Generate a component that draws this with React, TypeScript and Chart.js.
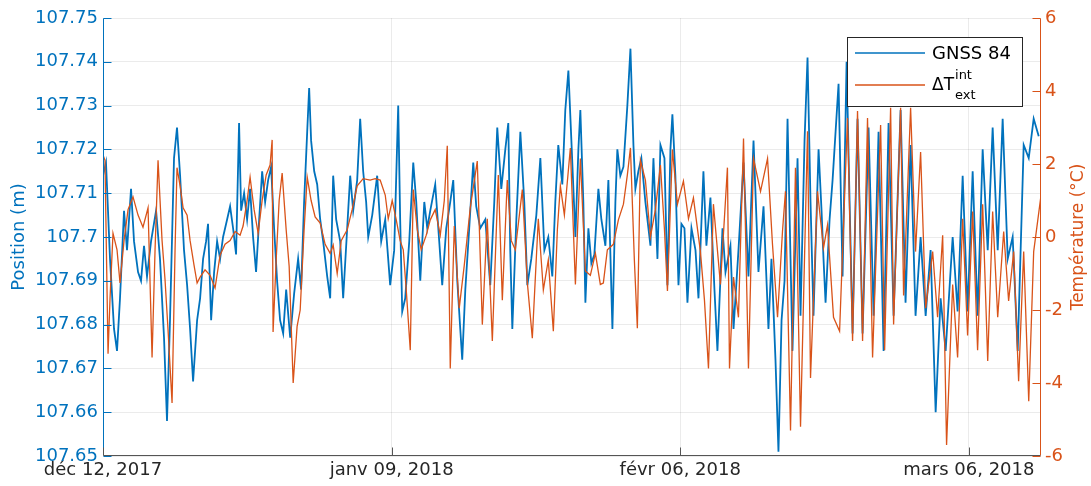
import React, { useEffect, useRef } from "react";
import { Chart, registerables } from "chart.js";

Chart.register(...registerables);

// ---- Data (x = days since 12 Dec 2017) ----
const xTickDays = [0, 28, 56, 84];
const xTickLabels = ["déc 12, 2017", "janv 09, 2018", "févr 06, 2018", "mars 06, 2018"];
const xMaxDay = 91;

const positionTicks = [107.65, 107.66, 107.67, 107.68, 107.69, 107.7, 107.71, 107.72, 107.73, 107.74, 107.75];
const positionTickLabels = ["107.65", "107.66", "107.67", "107.68", "107.69", "107.7", "107.71", "107.72", "107.73", "107.74", "107.75"];
const temperatureTicks = [-6, -4, -2, 0, 2, 4, 6];
const temperatureTickLabels = ["-6", "-4", "-2", "0", "2", "4", "6"];

const gnssDays = [
  0, 0.29, 0.68, 1.07, 1.36, 1.65, 2.04, 2.33, 2.72, 3.01,
  3.4, 3.69, 3.98, 4.27, 4.66, 5.15, 5.53, 5.92, 6.21, 6.5,
  6.89, 7.18, 7.48, 7.86, 8.16, 8.45, 8.74, 9.13, 9.42, 9.71,
  10.0, 10.19, 10.49, 10.78, 11.07, 11.36, 11.65, 12.04, 12.33, 12.62,
  12.91, 13.2, 13.4, 13.69, 13.98, 14.27, 14.56, 14.85, 15.15, 15.44,
  15.73, 16.02, 16.31, 16.6, 16.89, 17.18, 17.48, 17.77, 18.16, 18.54,
  18.93, 19.22, 19.51, 19.81, 20.0, 20.19, 20.49, 20.78, 21.07, 21.36,
  21.75, 22.04, 22.33, 22.62, 23.01, 23.3, 23.69, 23.98, 24.27, 24.66,
  24.95, 25.24, 25.53, 25.73, 26.12, 26.6, 26.99, 27.38, 27.86, 28.25,
  28.64, 28.83, 29.03, 29.32, 29.71, 30.1, 30.39, 30.78, 31.17, 31.46,
  31.75, 32.23, 32.62, 32.91, 33.3, 33.69, 33.98, 34.37, 34.66, 34.85,
  35.15, 35.53, 35.92, 36.21, 36.6, 37.09, 37.38, 37.57, 37.96, 38.25,
  38.64, 39.03, 39.32, 39.51, 39.71, 40.1, 40.49, 40.87, 41.17, 41.55,
  42.04, 42.43, 42.82, 43.2, 43.59, 43.88, 44.17, 44.56, 44.85, 45.15,
  45.44, 45.83, 46.12, 46.31, 46.6, 46.8, 47.09, 47.38, 47.67, 48.06,
  48.35, 48.74, 49.03, 49.42, 49.71, 49.9, 50.19, 50.49, 50.87, 51.17,
  51.46, 51.65, 51.94, 52.23, 52.62, 53.11, 53.4, 53.79, 54.08, 54.47,
  54.76, 55.05, 55.24, 55.53, 55.83, 56.12, 56.41, 56.7, 57.09, 57.48,
  57.77, 58.25, 58.54, 58.93, 59.32, 59.61, 60.1, 60.39, 60.87, 61.17,
  61.65, 62.14, 62.62, 63.11, 63.59, 64.08, 64.56, 64.85, 65.24, 65.53,
  65.83, 66.12, 66.41, 66.7, 66.89, 67.38, 67.67, 68.06, 68.35, 68.64,
  68.93, 69.42, 69.71, 69.9, 70.1, 70.49, 70.78, 71.36, 71.75, 72.14,
  72.43, 72.72, 73.2, 73.69, 74.27, 74.76, 75.24, 75.73, 76.21, 76.7,
  77.38, 77.86, 78.35, 78.83, 79.32, 79.81, 80.29, 80.78, 81.26, 81.75,
  82.43, 82.91, 83.4, 83.88, 84.37, 84.85, 85.34, 85.83, 86.31, 86.8,
  87.28, 87.77, 88.25, 88.74, 89.32, 89.81, 90.29, 90.78,
];
const gnssPosition = [
  107.714, 107.717, 107.695, 107.679, 107.674, 107.686, 107.706, 107.697, 107.711, 107.699,
  107.692, 107.69, 107.698, 107.691, 107.699, 107.706, 107.695, 107.677, 107.658, 107.681,
  107.718, 107.725, 107.714, 107.697, 107.689, 107.679, 107.667, 107.681, 107.686, 107.695,
  107.699, 107.703, 107.681, 107.692, 107.699, 107.695, 107.7, 107.704, 107.707, 107.702,
  107.696, 107.726, 107.706, 107.71, 107.704, 107.711, 107.7, 107.692, 107.704, 107.715,
  107.708, 107.713, 107.716, 107.702, 107.69, 107.681, 107.678, 107.688, 107.677, 107.687,
  107.695, 107.688, 107.708, 107.724, 107.734, 107.722, 107.715, 107.712, 107.704, 107.699,
  107.691, 107.686, 107.714, 107.704, 107.699, 107.686, 107.702, 107.714, 107.706, 107.713,
  107.727, 107.715, 107.708, 107.7, 107.705, 107.714, 107.699, 107.704, 107.689, 107.697,
  107.73, 107.704, 107.683, 107.686, 107.699, 107.717, 107.708, 107.69, 107.708, 107.702,
  107.706, 107.712, 107.699, 107.689, 107.702, 107.708, 107.713, 107.69, 107.679, 107.672,
  107.688, 107.702, 107.717, 107.707, 107.702, 107.704, 107.695, 107.689, 107.708, 107.725,
  107.711, 107.72, 107.726, 107.697, 107.679, 107.704, 107.724, 107.708, 107.689, 107.695,
  107.705, 107.718, 107.697, 107.7, 107.691, 107.708, 107.721, 107.712, 107.729, 107.738,
  107.722, 107.7, 107.72, 107.729, 107.708, 107.685, 107.702, 107.694, 107.696, 107.711,
  107.704, 107.698, 107.713, 107.679, 107.708, 107.72, 107.714, 107.716, 107.73, 107.743,
  107.721, 107.711, 107.715, 107.718, 107.708, 107.698, 107.718, 107.695, 107.721, 107.718,
  107.689, 107.72, 107.728, 107.714, 107.689, 107.703, 107.702, 107.685, 107.702, 107.697,
  107.686, 107.715, 107.698, 107.709, 107.688, 107.674, 107.702, 107.692, 107.698, 107.679,
  107.697, 107.717, 107.691, 107.722, 107.692, 107.707, 107.679, 107.695, 107.672, 107.651,
  107.681, 107.69, 107.727, 107.695, 107.674, 107.718, 107.682, 107.722, 107.741, 107.708,
  107.682, 107.72, 107.706, 107.695, 107.685, 107.704, 107.713, 107.735, 107.691, 107.74,
  107.708, 107.678, 107.727, 107.678, 107.725, 107.682, 107.724, 107.674, 107.726, 107.682,
  107.729, 107.685, 107.721, 107.682, 107.7, 107.682, 107.697, 107.66, 107.686, 107.674,
  107.7, 107.683, 107.714, 107.683, 107.715, 107.682, 107.72, 107.697, 107.725, 107.697,
  107.727, 107.695, 107.7, 107.674, 107.721, 107.718, 107.727, 107.723,
];

const tempDays = [
  0, 0.19, 0.49, 0.68, 0.97, 1.36, 1.65, 2.04, 2.43, 2.91,
  3.4, 3.88, 4.37, 4.76, 5.05, 5.34, 5.73, 6.02, 6.31, 6.7,
  6.99, 7.18, 7.48, 7.77, 8.16, 8.45, 8.83, 9.13, 9.42, 9.9,
  10.39, 10.87, 11.36, 11.84, 12.33, 12.82, 13.3, 13.59, 13.98, 14.27,
  14.66, 15.05, 15.44, 15.83, 16.21, 16.41, 16.5, 16.8, 17.09, 17.38,
  17.77, 18.06, 18.45, 18.83, 19.13, 19.51, 19.81, 20.19, 20.58, 21.07,
  21.55, 22.04, 22.33, 22.72, 23.11, 23.69, 24.17, 24.66, 25.24, 25.92,
  26.41, 26.89, 27.38, 27.67, 28.06, 28.45, 28.83, 29.13, 29.42, 29.81,
  30.1, 30.49, 30.87, 31.36, 31.75, 32.23, 32.72, 33.11, 33.4, 33.69,
  34.08, 34.56, 35.05, 35.63, 36.31, 36.8, 37.28, 37.77, 38.35, 38.74,
  39.22, 39.61, 40.0, 40.68, 41.17, 41.65, 42.23, 42.72, 43.2, 43.69,
  44.08, 44.37, 44.76, 45.34, 45.83, 46.31, 46.8, 47.28, 47.77, 48.25,
  48.54, 48.93, 49.51, 50.0, 50.49, 50.87, 51.17, 51.55, 51.84, 52.14,
  52.62, 53.11, 53.59, 54.08, 54.47, 54.76, 55.24, 55.73, 56.31, 56.8,
  57.28, 57.96, 58.35, 58.74, 59.22, 59.9, 60.58, 60.78, 61.17, 61.65,
  62.14, 62.62, 63.11, 63.79, 64.47, 64.95, 65.44, 65.92, 66.21, 66.7,
  67.18, 67.67, 68.35, 68.64, 69.32, 69.9, 70.29, 70.87, 71.46, 72.23,
  72.72, 73.2, 73.69, 74.17, 74.66, 75.44, 75.83, 76.41, 76.7, 77.38,
  77.67, 78.35, 78.83, 79.32, 79.81, 80.49, 80.97, 81.46, 81.84, 82.43,
  82.91, 83.4, 83.88, 84.37, 84.85, 85.34, 85.83, 86.31, 86.8, 87.38,
  87.86, 88.35, 88.83, 89.32, 89.81, 90.29, 90.97,
];
const tempDelta = [
  2.25, 2.1, -3.2, -1.7, 0.1, -0.35, -1.26, -0.1, 0.75, 1.1,
  0.6, 0.27, 0.8, -3.3, -0.35, 2.1, -0.1, -1.18, -2.55, -4.55,
  -0.35, 1.9, 1.4, 0.8, 0.6, -0.1, -0.77, -1.26, -1.1, -0.9,
  -1.05, -1.4, -0.5, -0.2, -0.1, 0.15, 0.05, 0.3, 1.0, 1.64,
  0.75, 0.1, 1.0, 1.7, 1.97, 2.66, -2.6, -0.63, 1.0, 1.75,
  0.2, -0.8, -4.0, -2.45, -2.0, 0.2, 1.64, 1.0, 0.55, 0.38,
  -0.2, -0.45, -0.22, -1.0, -0.1, 0.2, 0.75, 1.4, 1.6, 1.56,
  1.6, 1.56, 1.15, 0.5, 1.0, 0.47, -0.1, -0.35, -1.45, -3.1,
  1.3, 0.2, -0.35, 0.05, 0.47, 0.75, 0.05, 1.0, 2.5, -3.6,
  0.3, -1.95, -0.77, 0.8, 2.08, -2.4, 0.5, -2.85, 1.7, -1.73,
  1.56, -0.1, -0.35, 1.3, -1.26, -2.77, 0.5, -1.45, -0.63, -2.58,
  0.2, 1.4, 0.6, 2.44, -1.3, 2.15, -0.93, -1.05, -0.45, -1.3,
  -1.26, -0.35, -0.2, 0.47, 0.9, 1.7, 2.44, -0.63, -2.5, 2.1,
  1.56, 0, 0.75, 1.97, 0.2, -1.48, 2.4, 0.9, 1.53, 0.5,
  1.07, -0.4, -1.73, -3.6, 0.9, -1.3, 1.9, -3.6, -1.1, -2.2,
  2.7, -3.6, 2.15, 1.25, 2.15, -0.2, -2.2, 0.15, 1.25, -5.3,
  1.9, -5.2, 2.9, -3.86, 1.25, -0.3, 0.33, -2.2, -2.58, 3.26,
  -2.85, 3.45, -2.85, 3.26, -3.3, 3.07, -3.1, 3.54, -2.4, 3.54,
  -1.6, 3.54, -0.4, 2.33, -1.95, -0.4, -2.2, 0.05, -5.7, -1.3,
  -3.3, 0.5, -2.7, 0.7, -3.1, 0.9, -3.4, 0.7, -2.2, 0.15,
  -1.75, -0.4, -3.95, -0.4, -4.5, -0.4, 1.07,
];

const seriesNames = ["GNSS 84", "ΔT"];
const axisTitles = ["Position (m)", "Température (°C)"];

const BLUE = "rgb(0,114,189)";
const ORANGE = "rgb(217,83,25)";
const DARK = "#262626";
const GRID = "rgba(38,38,38,0.09)";
const FONT = "'DejaVu Sans', sans-serif";

function seg(ctx: CanvasRenderingContext2D, x1: number, y1: number, x2: number, y2: number, color: string, w = 1) {
  ctx.beginPath();
  ctx.strokeStyle = color;
  ctx.lineWidth = w;
  ctx.moveTo(x1, y1);
  ctx.lineTo(x2, y2);
  ctx.stroke();
}

const decorPlugin = {
  id: "decor",
  afterDatasetsDraw(chart: any) {
    const { ctx, chartArea: a, scales } = chart;
    const xs = scales.x;
    const yl = scales.y;
    const yr = scales.y1;
    const L = Math.round(a.left) + 0.5;
    const R = Math.round(a.right) - 0.5;
    const B = Math.round(a.bottom) - 0.5;
    const T = Math.round(a.top) + 0.5;
    const tl = 8;
    ctx.save();
    // axis lines
    seg(ctx, L, T, L, B, BLUE);
    seg(ctx, R, T, R, B, ORANGE);
    seg(ctx, L, B, R, B, "#555");
    // inward ticks
    positionTicks.forEach((v) => {
      const y = Math.round(yl.getPixelForValue(v)) + 0.5;
      seg(ctx, L, y, L + tl, y, BLUE);
    });
    temperatureTicks.forEach((v) => {
      const y = Math.round(yr.getPixelForValue(v)) + 0.5;
      seg(ctx, R - tl, y, R, y, ORANGE);
    });
    xTickDays.forEach((d) => {
      const x = Math.round(xs.getPixelForValue(d)) + 0.5;
      seg(ctx, x, B, x, B - tl, "#555");
    });

    // axis titles
    const cy = (a.top + a.bottom) / 2;
    ctx.textAlign = "center";
    ctx.textBaseline = "middle";
    ctx.save();
    ctx.translate(a.left - 84, cy);
    ctx.rotate(-Math.PI / 2);
    ctx.fillStyle = BLUE;
    ctx.font = `18px ${FONT}`;
    ctx.fillText(axisTitles[0], 0, 0);
    ctx.restore();
    ctx.save();
    ctx.translate(a.right + 38, cy);
    ctx.rotate(-Math.PI / 2);
    ctx.fillStyle = ORANGE;
    ctx.font = `17px ${FONT}`;
    ctx.fillText(axisTitles[1], 0, 0);
    ctx.restore();

    // legend
    const lw = 175;
    const lh = 69;
    const lx = Math.round(a.right) - 19 - lw;
    const ly = Math.round(a.top) + 19;
    ctx.fillStyle = "#fff";
    ctx.fillRect(lx, ly, lw, lh);
    ctx.strokeStyle = DARK;
    ctx.lineWidth = 1;
    ctx.strokeRect(lx + 0.5, ly + 0.5, lw, lh);
    seg(ctx, lx + 8, ly + 16, lx + 78, ly + 16, BLUE, 1.5);
    seg(ctx, lx + 8, ly + 48, lx + 78, ly + 48, ORANGE, 1.5);
    ctx.fillStyle = "#000";
    ctx.textAlign = "left";
    ctx.textBaseline = "middle";
    ctx.font = `18px ${FONT}`;
    ctx.fillText(seriesNames[0], lx + 85, ly + 17);
    ctx.textBaseline = "alphabetic";
    ctx.font = `17px ${FONT}`;
    ctx.fillText(seriesNames[1], lx + 85, ly + 53);
    const w = ctx.measureText(seriesNames[1]).width;
    ctx.font = `13px ${FONT}`;
    ctx.fillText("int", lx + 86 + w, ly + 42);
    ctx.fillText("ext", lx + 86 + w, ly + 62);
    ctx.restore();
  },
};

export default function App() {
  const ref = useRef<HTMLCanvasElement | null>(null);
  useEffect(() => {
    if (!ref.current) return;
    const chart = new Chart(ref.current, {
      type: "line",
      data: {
        datasets: [
          {
            label: seriesNames[1],
            data: tempDays.map((d, i) => ({ x: d, y: tempDelta[i] })),
            yAxisID: "y1",
            borderColor: ORANGE,
            borderWidth: 1.3,
            pointRadius: 0,
            tension: 0,
          },
          {
            label: seriesNames[0],
            data: gnssDays.map((d, i) => ({ x: d, y: gnssPosition[i] })),
            yAxisID: "y",
            borderColor: BLUE,
            borderWidth: 1.8,
            pointRadius: 0,
            tension: 0,
          },
        ],
      },
      options: {
        animation: false,
        responsive: false,
        events: [],
        layout: { padding: { top: 18, left: 0, right: 0, bottom: 0 } },
        plugins: { legend: { display: false }, tooltip: { enabled: false } },
        scales: {
          x: {
            type: "linear",
            min: 0,
            max: xMaxDay,
            afterBuildTicks: (s: any) => {
              s.ticks = xTickDays.map((v) => ({ value: v }));
            },
            afterFit: (s: any) => {
              s.height = 30;
            },
            ticks: {
              autoSkip: false,
              maxRotation: 0,
              minRotation: 0,
              padding: 4,
              color: DARK,
              font: { family: FONT, size: 18 },
              callback: (_v: any, i: number) => xTickLabels[i],
            },
            grid: { color: GRID, drawTicks: false },
            border: { display: false },
          },
          y: {
            type: "linear",
            position: "left",
            min: positionTicks[0],
            max: positionTicks[positionTicks.length - 1],
            afterBuildTicks: (s: any) => {
              s.ticks = positionTicks.map((v) => ({ value: v }));
            },
            afterFit: (s: any) => {
              s.width = 103;
            },
            ticks: {
              autoSkip: false,
              padding: 5,
              color: BLUE,
              font: { family: FONT, size: 18 },
              callback: (_v: any, i: number) => positionTickLabels[i],
            },
            grid: { color: GRID, drawTicks: false },
            border: { display: false },
          },
          y1: {
            type: "linear",
            position: "right",
            min: temperatureTicks[0],
            max: temperatureTicks[temperatureTicks.length - 1],
            afterBuildTicks: (s: any) => {
              s.ticks = temperatureTicks.map((v) => ({ value: v }));
            },
            afterFit: (s: any) => {
              s.width = 50;
            },
            ticks: {
              autoSkip: false,
              padding: 4,
              color: ORANGE,
              font: { family: FONT, size: 18 },
              callback: (_v: any, i: number) => temperatureTickLabels[i],
            },
            grid: { display: false, drawTicks: false },
            border: { display: false },
          },
        },
      },
      plugins: [decorPlugin],
    });
    return () => chart.destroy();
  }, []);

  return (
    <div style={{ position: "absolute", left: 0, top: 0, width: 1091, height: 486, background: "#fff" }}>
      <canvas ref={ref} width={1091} height={486} style={{ display: "block" }} />
    </div>
  );
}
